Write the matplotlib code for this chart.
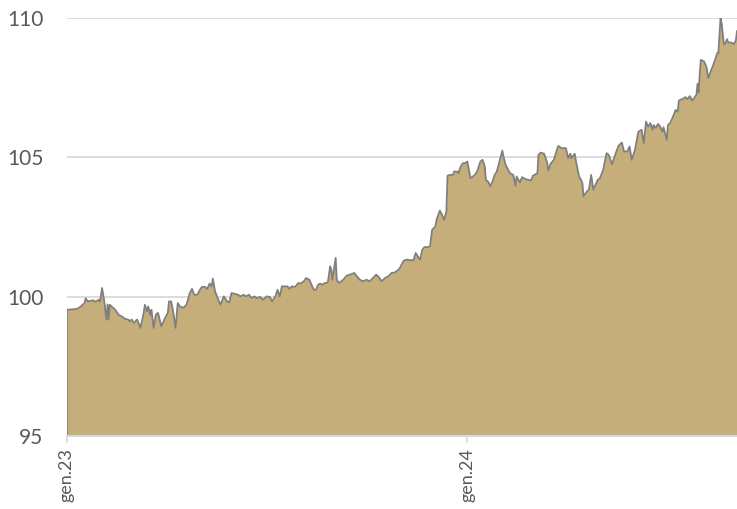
import matplotlib
matplotlib.use("Agg")
import matplotlib.pyplot as plt
import matplotlib.dates as mdates
import pandas as pd

# days since 1 Jan 2023, and index level
day = [0, 9, 12, 16, 17, 19, 24, 26, 29, 30, 32, 34, 36, 37, 38, 39, 44, 47, 50, 53,
       56, 57, 59, 61, 64, 67, 70, 71, 73, 74, 76, 77, 79, 81, 83, 86, 89, 92, 93, 95,
       97, 99, 101, 103, 106, 109, 112, 114, 116, 119, 121, 123, 126, 128, 130, 132, 133, 135, 138, 140,
       143, 146, 148, 150, 153, 156, 158, 161, 163, 166, 168, 171, 173, 176, 179, 182, 185, 187, 190, 192,
       194, 196, 199, 201, 203, 205, 208, 211, 213, 216, 218, 221, 223, 225, 227, 229, 231, 233, 235, 237,
       238, 240, 241, 242, 245, 246, 248, 252, 255, 258, 262, 264, 267, 270, 273, 276, 279, 282, 285, 287,
       290, 293, 296, 299, 303, 307, 310, 313, 316, 318, 320, 322, 324, 326, 329, 331, 333, 336, 337, 340,
       342, 344, 346, 347, 349, 352, 353, 356, 357, 359, 361, 363, 365, 368, 370, 372, 374, 377, 379, 381,
       382, 384, 386, 388, 390, 392, 394, 397, 398, 400, 402, 404, 407, 409, 410, 413, 415, 418, 421, 423,
       425, 429, 430, 432, 435, 436, 438, 439, 441, 444, 446, 448, 451, 453, 455, 457, 459, 460, 463, 464,
       467, 468, 470, 471, 474, 476, 478, 480, 482, 484, 486, 489, 492, 494, 497, 500, 503, 506, 508, 511,
       513, 515, 518, 521, 524, 526, 528, 530, 532, 534, 535, 537, 539, 541, 543, 544, 547, 548, 550, 553,
       555, 557, 558, 561, 564, 566, 568, 570, 572, 574, 575, 576, 577, 578, 581, 583, 585, 587, 589, 591,
       593, 594, 596, 597, 599, 600, 602, 603, 606, 608, 610, 611]
level = [99.53, 99.56, 99.63, 99.77, 99.94, 99.83, 99.87, 99.82, 99.89, 99.82, 100.31, 99.83, 99.18, 99.72, 99.18, 99.71, 99.53, 99.35, 99.29, 99.20,
         99.18, 99.11, 99.18, 99.06, 99.18, 98.88, 99.42, 99.71, 99.47, 99.65, 99.35, 99.53, 98.88, 99.35, 99.42, 98.94, 99.20, 99.42, 99.83, 99.83,
         99.42, 98.88, 99.77, 99.65, 99.60, 99.71, 100.13, 100.28, 100.07, 100.07, 100.23, 100.35, 100.35, 100.28, 100.47, 100.37, 100.65, 100.19, 99.89, 99.71,
         100.01, 99.83, 99.80, 100.13, 100.10, 100.07, 100.01, 100.07, 100.01, 100.07, 99.95, 100.01, 99.95, 99.99, 99.89, 100.01, 99.99, 99.83, 100.01, 100.25,
         100.01, 100.37, 100.37, 100.37, 100.28, 100.37, 100.35, 100.49, 100.47, 100.55, 100.67, 100.61, 100.43, 100.25, 100.25, 100.43, 100.47, 100.43, 100.49, 100.49,
         100.55, 101.09, 100.97, 100.61, 101.39, 100.61, 100.49, 100.61, 100.75, 100.79, 100.85, 100.75, 100.61, 100.55, 100.61, 100.55, 100.67, 100.79, 100.67, 100.55,
         100.67, 100.73, 100.85, 100.87, 100.99, 101.29, 101.33, 101.31, 101.31, 101.57, 101.44, 101.33, 101.68, 101.78, 101.78, 101.80, 102.40, 102.52, 102.76, 103.09,
         102.94, 102.76, 103.06, 104.34, 104.37, 104.37, 104.49, 104.49, 104.43, 104.67, 104.79, 104.79, 104.85, 104.25, 104.31, 104.37, 104.49, 104.85, 104.91, 104.67,
         104.19, 104.13, 103.96, 104.13, 104.37, 104.49, 104.79, 105.24, 105.03, 104.73, 104.58, 104.43, 104.37, 103.98, 104.31, 104.10, 104.29, 104.22, 104.19, 104.17,
         104.34, 104.43, 105.09, 105.17, 105.13, 105.03, 104.79, 104.53, 104.77, 104.91, 105.17, 105.41, 105.33, 105.33, 105.33, 104.97, 105.13, 104.97, 105.13, 104.89,
         104.31, 104.25, 104.08, 103.60, 103.77, 103.84, 104.37, 103.84, 104.01, 104.19, 104.25, 104.55, 105.15, 105.09, 104.75, 105.10, 105.42, 105.53, 105.21, 105.21,
         105.39, 104.91, 105.27, 105.92, 105.99, 105.51, 106.28, 106.10, 106.23, 105.99, 106.16, 106.05, 106.20, 106.10, 105.92, 106.08, 105.63, 106.16, 106.23, 106.49,
         106.70, 106.64, 107.04, 107.09, 107.16, 107.09, 107.20, 107.04, 107.13, 107.25, 107.64, 107.33, 107.96, 108.50, 108.44, 108.26, 107.84, 108.08, 108.28, 108.50,
         108.74, 108.74, 110.00, 109.80, 109.06, 109.06, 109.24, 109.12, 109.12, 109.06, 109.20, 109.53]

tick_dates = ["2023-01-01", "2024-01-01"]
tick_labels = ["gen.23", "gen.24"]
y_ticks = [95, 100, 105, 110]

dates = pd.Timestamp("2023-01-01") + pd.to_timedelta(day, unit="D")

plt.rcParams["font.family"] = ["Lato", "DejaVu Sans"]

fig = plt.figure(figsize=(7.37, 5.09), dpi=100)
ax = fig.add_axes([0.0909, 0.1434, 0.9091, 0.8212])

base = y_ticks[0]
ax.fill_between(dates, base, level, color="#c5ae7a", linewidth=0, zorder=2)
ax.plot(dates, level, color="#7f7f7f", linewidth=1.3, zorder=3)
ax.vlines(dates[0], base, level[0], color="#7f7f7f", linewidth=1.3, zorder=3)

ax.set_ylim(95, 110)
ax.set_xlim(dates[0], dates[-1])
ax.set_yticks(y_ticks)
ax.grid(axis="y", color="#d9d9d9", linewidth=1.3, zorder=1)
ax.set_axisbelow(True)

ax.set_xticks(pd.to_datetime(tick_dates))
ax.set_xticklabels(tick_labels, rotation=90, fontsize=13, color="#595959")
ax.tick_params(axis="x", length=5, width=1.2, color="#d9d9d9", pad=4)
ax.tick_params(axis="y", length=0, pad=17, labelsize=15, labelcolor="#595959")

for s in ["top", "right", "left"]:
    ax.spines[s].set_visible(False)
ax.spines["bottom"].set_color("#d9d9d9")
ax.spines["bottom"].set_linewidth(1.5)
ax.spines["bottom"].set_zorder(4)

fig.savefig("out.png", dpi=100)
